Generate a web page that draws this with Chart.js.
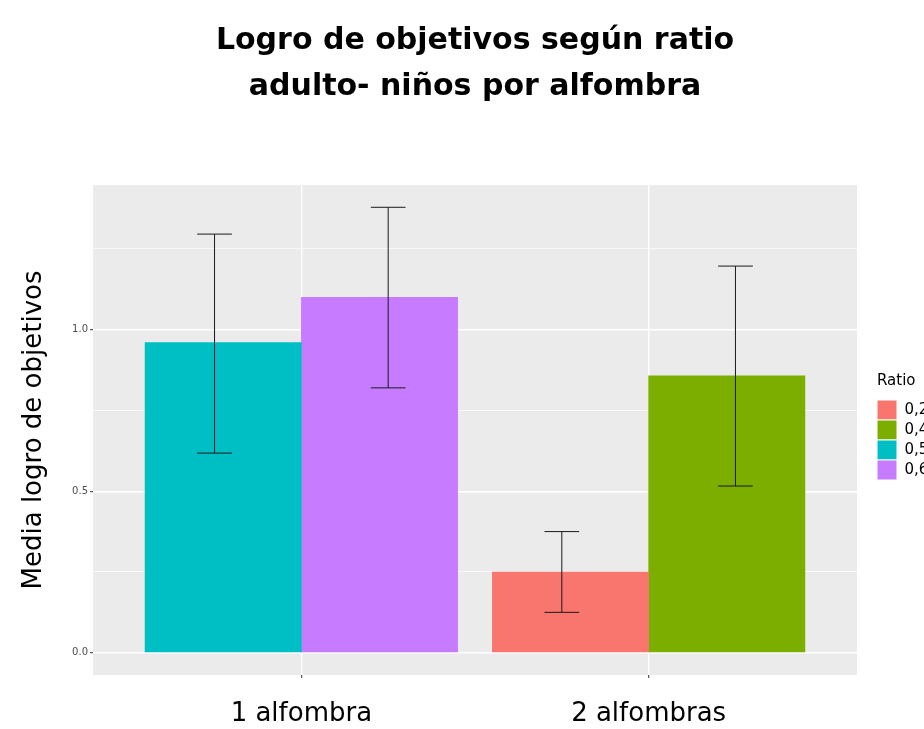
<!DOCTYPE html>
<html>
<head>
<meta charset="utf-8">
<script src="https://cdn.jsdelivr.net/npm/chart.js@4/dist/chart.umd.min.js"></script>
<style>
  html, body { margin: 0; padding: 0; background: #ffffff; overflow: hidden; }
  #wrap { width: 924px; height: 729px; }
</style>
</head>
<body>
<div id="wrap"><canvas id="chart" width="924" height="729"></canvas></div>
<script>
var categories = ['1 alfombra', '2 alfombras'];
var ratios = ['0,2', '0,4', '0,5', '0,6'];
var ratioGroup = [1, 1, 0, 0];          // index into categories
var means = [0.25, 0.857, 0.96, 1.10];
var lower = [0.125, 0.516, 0.618, 0.82];
var upper = [0.375, 1.197, 1.296, 1.379];
var yTicks = [0, 0.25, 0.5, 0.75, 1, 1.25];
var colors = ['#F8766D', '#7CAE00', '#00BFC4', '#C77CFF'];

var barDodge = 0.9;
var errDodge = 1.0;
var errWidth = 0.1;

// ggplot-like dodge: spread the ratios present in a category over the dodge width
var dodgeCenter = function (i, width) {
  var members = [];
  for (var j = 0; j < ratios.length; j++) {
    if (ratioGroup[j] === ratioGroup[i]) members.push(j);
  }
  var k = members.indexOf(i);
  return (ratioGroup[i] + 1) - width / 2 + (k + 0.5) * width / members.length;
};

var datasets = [];
for (var i = 0; i < ratios.length; i++) {
  datasets.push({
    label: ratios[i],
    data: [{x: dodgeCenter(i, barDodge), y: means[i]}],
    backgroundColor: colors[i],
    borderWidth: 0,
    grouped: false,
    categoryPercentage: 1,
    barPercentage: 1
  });
}

var panelPlugin = {
  id: 'panel',
  beforeDraw: function (chart) {
    var a = chart.chartArea;
    var ctx = chart.ctx;
    ctx.save();
    ctx.fillStyle = '#EBEBEB';
    ctx.fillRect(a.left, a.top, a.right - a.left, a.bottom - a.top);
    ctx.restore();
  }
};

var errorBarPlugin = {
  id: 'errorBars',
  afterDatasetsDraw: function (chart) {
    var ctx = chart.ctx;
    var xs = chart.scales.x;
    var ys = chart.scales.y;
    ctx.save();
    ctx.strokeStyle = '#1A1A1A';
    ctx.lineWidth = 1;
    for (var i = 0; i < ratios.length; i++) {
      var c = dodgeCenter(i, errDodge);
      var x = xs.getPixelForValue(c);
      var x0 = xs.getPixelForValue(c - errWidth / 2);
      var x1 = xs.getPixelForValue(c + errWidth / 2);
      var yl = ys.getPixelForValue(lower[i]);
      var yu = ys.getPixelForValue(upper[i]);
      ctx.beginPath();
      ctx.moveTo(x, yl); ctx.lineTo(x, yu);
      ctx.moveTo(x0, yl); ctx.lineTo(x1, yl);
      ctx.moveTo(x0, yu); ctx.lineTo(x1, yu);
      ctx.stroke();
    }
    ctx.restore();
  }
};

var legendPlugin = {
  id: 'legendPlace',
  beforeLayout: function (chart) {
    var legend = chart.legend;
    if (legend && !legend._fixedFit) {
      var fit = legend.fit;
      legend.fit = function () {
        fit.call(this);
        this.width = 67;
      };
      legend._fixedFit = true;
    }
  },
  afterLayout: function (chart) {
    chart.legend.left += 20;
    chart.legend.right += 20;
    chart.legend.top -= 3;
    chart.legend.bottom -= 3;
  }
};

new Chart(document.getElementById('chart').getContext('2d'), {
  type: 'bar',
  data: {datasets: datasets},
  options: {
    responsive: false,
    animation: false,
    layout: {padding: 0},
    plugins: {
      tooltip: {enabled: false},
      title: {
        display: true,
        fullSize: false,
        text: ['Logro de objetivos según ratio', 'adulto- niños por alfombra'],
        color: '#000000',
        font: {family: 'DejaVu Sans', size: 30, weight: 'bold', lineHeight: '46px'},
        padding: {top: 18, bottom: 75}
      },
      legend: {
        display: true,
        position: 'right',
        fullSize: false,
        align: 'center',
        title: {
          display: true,
          text: 'Ratio',
          color: '#000000',
          position: 'start',
          font: {family: 'DejaVu Sans', size: 15},
          padding: {top: 0, bottom: 8}
        },
        labels: {
          boxWidth: 20,
          boxHeight: 20,
          padding: 0,
          color: '#000000',
          font: {family: 'DejaVu Sans', size: 15},
          generateLabels: function (chart) {
            var items = Chart.defaults.plugins.legend.labels.generateLabels(chart);
            items.forEach(function (it) {
              it.strokeStyle = '#FFFFFF';
              it.lineWidth = 1;
            });
            return items;
          }
        }
      }
    },
    scales: {
      x: {
        type: 'linear',
        min: 0.4,
        max: 2.6,
        offset: false,
        afterBuildTicks: function (scale) {
          scale.ticks = categories.map(function (c, i) { return {value: i + 1}; });
        },
        afterFit: function (scale) { scale.height = 54; },
        ticks: {
          callback: function (value, index) { return categories[index]; },
          color: '#000000',
          padding: 21,
          maxRotation: 0,
          autoSkip: false,
          font: {family: 'DejaVu Sans', size: 26}
        },
        grid: {
          offset: false,
          color: '#FFFFFF',
          lineWidth: 1.4,
          tickLength: 3,
          tickColor: '#333333',
          tickWidth: 1
        },
        border: {display: false}
      },
      y: {
        type: 'linear',
        min: -0.069,
        max: 1.448,
        afterBuildTicks: function (scale) {
          scale.ticks = yTicks.map(function (v) { return {value: v}; });
        },
        afterFit: function (scale) { scale.width = 93; },
        ticks: {
          callback: function (value) {
            return (value * 2) % 1 === 0 ? value.toFixed(1) : '';
          },
          color: '#4D4D4D',
          padding: 2,
          font: {family: 'DejaVu Sans', size: 10}
        },
        grid: {
          color: '#FFFFFF',
          lineWidth: function (ctx) {
            return (ctx.tick && (ctx.tick.value * 2) % 1 === 0) ? 1.4 : 0.7;
          },
          tickLength: 3,
          tickColor: function (ctx) {
            return (ctx.tick && (ctx.tick.value * 2) % 1 === 0) ? '#333333' : 'rgba(0,0,0,0)';
          },
          tickWidth: 1
        },
        border: {display: false},
        title: {
          display: true,
          text: 'Media logro de objetivos',
          color: '#000000',
          font: {family: 'DejaVu Sans', size: 26},
          padding: {top: 19, bottom: 0}
        }
      }
    }
  },
  plugins: [panelPlugin, errorBarPlugin, legendPlugin]
});
</script>
</body>
</html>
